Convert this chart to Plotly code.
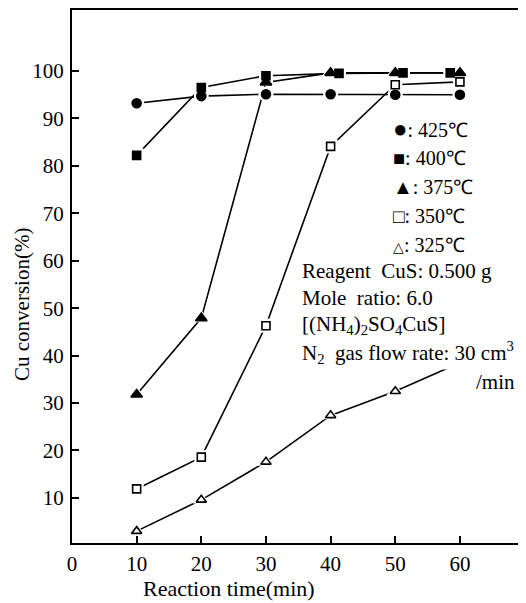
import plotly.graph_objects as go

# ---- data ----
x_425 = [10, 20, 30, 40, 50, 60]
y_425 = [93.2, 94.7, 95.1, 95.1, 95.0, 95.0]

x_400 = [10, 20, 30, 41.3, 51.2, 58.5]
y_400 = [82.2, 96.5, 99.0, 99.5, 99.6, 99.6]

x_375 = [10, 20, 30, 40, 50, 60]
y_375 = [31.8, 47.9, 97.6, 99.6, 99.6, 99.6]

x_350 = [10, 20, 30, 40, 50, 60]
y_350 = [11.9, 18.6, 46.3, 84.1, 97.1, 97.7]

x_325 = [10, 20, 30, 40, 50, 60]
y_325 = [3.0, 9.6, 17.6, 27.4, 32.5, 38.5]

x_ticks = [0, 10, 20, 30, 40, 50, 60]
y_ticks = [10, 20, 30, 40, 50, 60, 70, 80, 90, 100]

legend_symbols = ["●", "■", "▲", "□", "△"]
legend_temps = ["425℃", "400℃", "375℃", "350℃", "325℃"]
condition_lines = [
    "Reagent  CuS: 0.500 g",
    "Mole  ratio: 6.0",
    "[(NH<sub>4</sub>)<sub>2</sub>SO<sub>4</sub>CuS]",
    "N<sub>2</sub>  gas flow rate: 30 cm<sup>3</sup>",
]
unit_line = "/min"
x_title = "Reaction time(min)"
y_title = "Cu conversion(%)"

# ---- layout geometry (page pixels; the page body adds an 8 px offset) ----
OFF = 8
PAGE_W, PAGE_H = 526, 603
W, H = PAGE_W - OFF, PAGE_H - OFF
PL, PR, PT, PB = 72, 522, 10, 543          # plot area in page pixels
L, R, T, B = PL - OFF, PAGE_W - PR, PT - OFF, PAGE_H - PB
PW, PH = PR - PL, PB - PT


def px(x):
    return (x - PL) / PW


def py(y):
    return (PB - y) / PH


FONT = "Liberation Serif"

series = [
    (x_425, y_425, "circle", 9, "black"),
    (x_400, y_400, "square", 8, "black"),
    (x_375, y_375, "triangle-up", 10, "black"),
    (x_350, y_350, "square", 8, "white"),
    (x_325, y_325, "triangle-up", 9, "white"),
]

fig = go.Figure()
# lines
for xs, ys, sym, sz, fill in series:
    fig.add_trace(go.Scatter(x=xs, y=ys, mode="lines",
                             line=dict(color="black", width=1.6),
                             showlegend=False, hoverinfo="skip"))
# white halos (gap between line and marker)
for xs, ys, sym, sz, fill in series:
    fig.add_trace(go.Scatter(x=xs, y=ys, mode="markers",
                             marker=dict(symbol=sym, size=sz + 6, color="white",
                                         line=dict(width=0)),
                             showlegend=False, hoverinfo="skip"))
# markers
for xs, ys, sym, sz, fill in series:
    fig.add_trace(go.Scatter(x=xs, y=ys, mode="markers",
                             marker=dict(symbol=sym, size=sz, color=fill,
                                         line=dict(color="black", width=1.6)),
                             showlegend=False))

annotations = []
leg_y = [129, 158, 187, 216, 245]
sym_sizes = [24, 20, 20, 19, 14]
for s, t, ss, yy in zip(legend_symbols, legend_temps, sym_sizes, leg_y):
    lab = "<span style='font-size:%dpx'>%s</span>: %s" % (ss, s, t)
    annotations.append(dict(x=px(391), y=py(yy), xref="paper", yref="paper",
                            text=lab, showarrow=False, xanchor="left", yanchor="middle",
                            font=dict(family=FONT, size=20, color="black")))
cond_y = [271, 298, 325, 352]
for lab, yy in zip(condition_lines, cond_y):
    annotations.append(dict(x=px(299), y=py(yy), xref="paper", yref="paper",
                            text=lab, showarrow=False, xanchor="left", yanchor="middle",
                            bgcolor="white", borderpad=2,
                            font=dict(family=FONT, size=21, color="black")))
annotations.append(dict(x=px(518), y=py(382), xref="paper", yref="paper",
                        text=unit_line, showarrow=False, xanchor="right", yanchor="middle",
                        bgcolor="white", borderpad=2,
                        font=dict(family=FONT, size=21, color="black")))
annotations.append(dict(x=px(229), y=py(588), xref="paper", yref="paper",
                        text=x_title, showarrow=False, xanchor="center", yanchor="middle",
                        font=dict(family=FONT, size=22, color="black")))
annotations.append(dict(x=px(22), y=py(305), xref="paper", yref="paper",
                        text=y_title, showarrow=False, xanchor="center", yanchor="middle",
                        textangle=-90,
                        font=dict(family=FONT, size=21, color="black")))

axis_common = dict(ticks="inside", ticklen=7, tickwidth=2, tickcolor="black",
                   showline=True, linewidth=2, linecolor="black", mirror=True,
                   showgrid=False, zeroline=False, automargin=False,
                   tickfont=dict(family=FONT, size=21, color="black"))

fig.update_layout(
    template="none",
    width=W, height=H,
    margin=dict(l=L, r=R, t=T, b=B, pad=0, autoexpand=False),
    paper_bgcolor="white", plot_bgcolor="white",
    xaxis=dict(range=[0, 69.6], tickmode="array", tickvals=x_ticks,
               ticktext=[str(v) for v in x_ticks], ticklabelstandoff=1, **axis_common),
    yaxis=dict(range=[0.5, 112.85], tickmode="array", tickvals=y_ticks,
               ticktext=[str(v) for v in y_ticks], ticklabelstandoff=2, **axis_common),
    annotations=annotations,
    showlegend=False,
)

fig.write_html("out.html")
